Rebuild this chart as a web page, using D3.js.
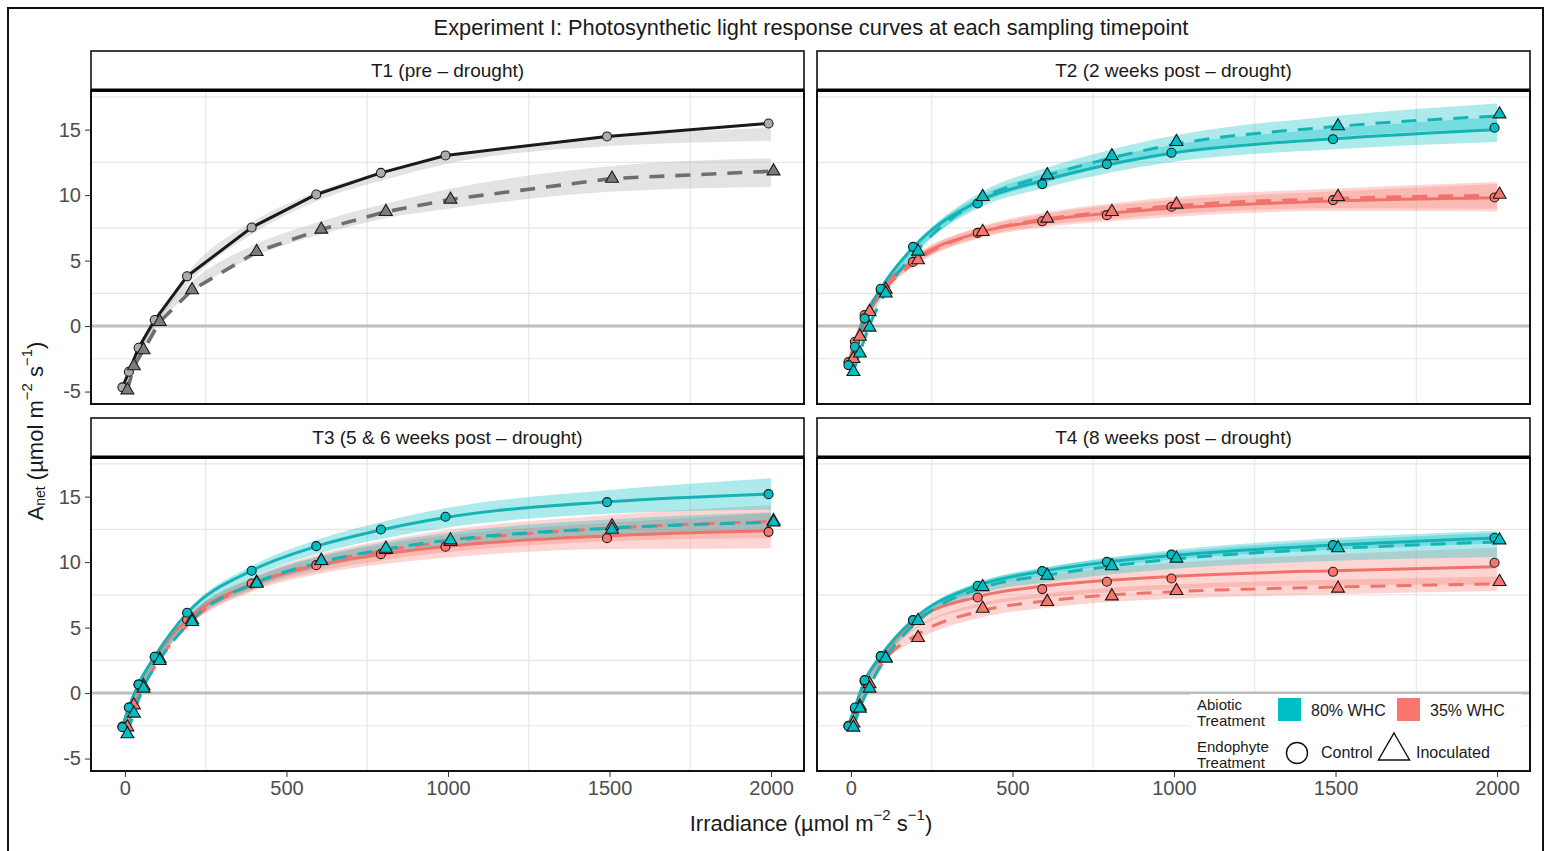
<!DOCTYPE html>
<html>
<head>
<meta charset="utf-8">
<script src="https://cdn.jsdelivr.net/npm/d3@7"></script>
<style>
  body { margin: 0; background: #fff; }
  svg { display: block; }
  text { font-family: "Liberation Sans", Arial, Helvetica, sans-serif; }
</style>
</head>
<body>
<svg id="chart" width="1551" height="851"></svg>
<script>
// ---- data -------------------------------------------------------------
const irradiance = [0, 20, 50, 100, 200, 400, 600, 800, 1000, 1500, 2000];
const xTicks = [0, 500, 1000, 1500, 2000];
const yTicks = [-5, 0, 5, 10, 15];
const xMinor = [250, 750, 1250, 1750];
const yMinor = [-2.5, 2.5, 7.5, 12.5, 17.5];
const panelTitles = [
  "T1 (pre \u2013 drought)",
  "T2 (2 weeks post \u2013 drought)",
  "T3 (5 & 6 weeks post \u2013 drought)",
  "T4 (8 weeks post \u2013 drought)"
];
const abioticLevels = ["80% WHC", "35% WHC"];
const endophyteLevels = ["Control", "Inoculated"];

// T1 (pre-drought, no water treatment yet)
const t1CtrlPts = [-4.68, -3.49, -1.66, 0.46, 3.8, 7.53, 10.05, 11.7, 13.03, 14.48, 15.47];
const t1CtrlFit = [-4.68, -3.49, -1.66, 0.46, 3.8, 7.53, 10.05, 11.7, 13.03, 14.48, 15.47];
const t1CtrlLo  = [-4.85, -3.65, -1.9, 0.2, 3.35, 7.1, 9.6, 11.15, 12.4, 13.75, 14.15];
const t1CtrlHi  = [-4.5, -3.3, -1.45, 0.7, 4.25, 8.05, 10.3, 11.85, 13.0, 14.45, 15.15];
const t1InocPts = [-4.89, -3.05, -1.83, 0.33, 2.75, 5.67, 7.38, 8.73, 9.67, 11.27, 11.83];
const t1InocFit = [-4.89, -3.05, -1.83, 0.33, 2.75, 5.67, 7.38, 8.73, 9.67, 11.27, 11.83];
const t1InocLo  = [-5.05, -3.3, -2.05, 0.05, 2.4, 5.3, 6.95, 8.2, 8.95, 10.25, 10.63];
const t1InocHi  = [-4.7, -2.8, -1.55, 0.6, 3.25, 6.2, 7.95, 9.3, 10.45, 12.2, 12.8];

// T2
const t2WetCtrlPts = [-2.98, -1.58, 0.59, 2.85, 6.05, 9.36, 10.84, 12.37, 13.23, 14.27, 15.14];
const t2WetCtrlFit = [-3.0, -1.6, 0.55, 2.85, 6.0, 9.5, 11.1, 12.3, 13.2, 14.3, 15.0];
const t2WetCtrlLo  = [-3.15, -1.75, 0.35, 2.6, 5.65, 9.05, 10.55, 11.7, 12.55, 13.5, 14.05];
const t2WetCtrlHi  = [-2.85, -1.45, 0.75, 3.1, 6.35, 9.95, 11.65, 12.9, 13.85, 15.1, 15.95];
const t2WetInocPts = [-3.49, -2.08, -0.1, 2.5, 5.7, 9.87, 11.53, 12.98, 14.07, 15.27, 16.18];
const t2WetInocFit = [-3.45, -2.0, 0.05, 2.6, 5.85, 9.75, 11.5, 12.85, 13.9, 15.25, 16.05];
const t2WetInocLo  = [-3.6, -2.15, -0.15, 2.35, 5.5, 9.3, 10.95, 12.25, 13.25, 14.45, 15.1];
const t2WetInocHi  = [-3.3, -1.85, 0.25, 2.85, 6.2, 10.2, 12.05, 13.45, 14.55, 16.05, 17.0];
const t2DryCtrlPts = [-2.75, -1.2, 0.84, 2.75, 4.9, 7.12, 8.0, 8.47, 9.11, 9.62, 9.82];
const t2DryCtrlFit = [-2.75, -1.2, 0.8, 2.75, 5.0, 7.1, 8.05, 8.6, 9.0, 9.55, 9.8];
const t2DryCtrlLo  = [-2.9, -1.35, 0.6, 2.5, 4.65, 6.7, 7.55, 8.0, 8.35, 8.8, 8.75];
const t2DryCtrlHi  = [-2.6, -1.05, 1.0, 3.0, 5.35, 7.5, 8.55, 9.2, 9.65, 10.3, 10.85];
const t2DryInocPts = [-2.5, -0.8, 1.09, 2.8, 5.04, 7.2, 8.22, 8.73, 9.29, 9.87, 10.05];
const t2DryInocFit = [-2.5, -0.85, 1.05, 2.85, 5.05, 7.2, 8.2, 8.75, 9.2, 9.75, 10.0];
const t2DryInocLo  = [-2.65, -1.0, 0.85, 2.6, 4.7, 6.8, 7.7, 8.15, 8.55, 9.0, 8.95];
const t2DryInocHi  = [-2.35, -0.7, 1.25, 3.1, 5.4, 7.6, 8.7, 9.35, 9.85, 10.5, 11.0];

// T3
const t3WetCtrlPts = [-2.6, -1.1, 0.66, 2.77, 6.13, 9.34, 11.22, 12.49, 13.46, 14.58, 15.19];
const t3WetCtrlFit = [-2.6, -1.1, 0.7, 2.8, 6.1, 9.35, 11.2, 12.45, 13.4, 14.6, 15.2];
const t3WetCtrlLo  = [-2.75, -1.25, 0.5, 2.55, 5.75, 8.9, 10.65, 11.8, 12.65, 13.7, 14.0];
const t3WetCtrlHi  = [-2.45, -0.95, 0.9, 3.05, 6.45, 9.8, 11.75, 13.1, 14.15, 15.5, 16.4];
const t3WetInocPts = [-3.13, -1.55, 0.36, 2.47, 5.44, 8.37, 10.1, 11.04, 11.68, 12.49, 13.05];
const t3WetInocFit = [-3.05, -1.5, 0.45, 2.55, 5.6, 8.45, 10.0, 11.0, 11.7, 12.6, 13.05];
const t3WetInocLo  = [-3.2, -1.65, 0.25, 2.3, 5.3, 8.05, 9.55, 10.5, 11.15, 11.95, 12.3];
const t3WetInocHi  = [-2.9, -1.35, 0.65, 2.8, 5.9, 8.85, 10.45, 11.5, 12.25, 13.25, 13.8];
const t3DryCtrlPts = [-2.55, -1.1, 0.66, 2.77, 5.62, 8.37, 9.77, 10.61, 11.17, 11.83, 12.31];
const t3DryCtrlFit = [-2.55, -1.1, 0.65, 2.75, 5.6, 8.3, 9.75, 10.6, 11.2, 12.0, 12.4];
const t3DryCtrlLo  = [-2.7, -1.25, 0.45, 2.5, 5.2, 7.8, 9.1, 9.85, 10.35, 11.0, 11.05];
const t3DryCtrlHi  = [-2.4, -0.95, 0.85, 3.0, 6.0, 8.8, 10.4, 11.35, 12.05, 13.0, 13.75];
const t3DryInocPts = [-2.6, -0.92, 0.55, 2.6, 5.6, 8.45, 10.1, 10.95, 11.55, 12.75, 13.15];
const t3DryInocFit = [-2.6, -0.95, 0.55, 2.6, 5.55, 8.4, 9.95, 10.9, 11.6, 12.6, 13.1];
const t3DryInocLo  = [-2.75, -1.1, 0.35, 2.35, 5.15, 7.9, 9.3, 10.15, 10.75, 11.6, 11.85];
const t3DryInocHi  = [-2.45, -0.8, 0.75, 2.85, 5.95, 8.9, 10.6, 11.65, 12.45, 13.6, 14.35];

// T4
const t4WetCtrlPts = [-2.52, -1.1, 0.99, 2.82, 5.57, 8.19, 9.31, 10.02, 10.57, 11.3, 11.86];
const t4WetCtrlFit = [-2.5, -1.1, 0.9, 2.85, 5.6, 8.2, 9.3, 10.0, 10.5, 11.3, 11.85];
const t4WetCtrlLo  = [-2.6, -1.2, 0.75, 2.65, 5.35, 7.9, 9.0, 9.7, 10.2, 10.95, 11.45];
const t4WetCtrlHi  = [-2.4, -1.0, 1.05, 3.05, 5.85, 8.5, 9.6, 10.3, 10.8, 11.65, 12.25];
const t4WetInocPts = [-2.62, -1.17, 0.36, 2.65, 5.52, 8.11, 8.98, 9.7, 10.28, 11.08, 11.68];
const t4WetInocFit = [-2.6, -1.15, 0.5, 2.7, 5.5, 8.05, 9.0, 9.7, 10.25, 11.05, 11.55];
const t4WetInocLo  = [-2.7, -1.25, 0.3, 2.45, 5.2, 7.6, 8.45, 9.05, 9.5, 10.1, 10.4];
const t4WetInocHi  = [-2.5, -1.05, 0.7, 2.95, 5.8, 8.5, 9.55, 10.35, 10.95, 11.85, 12.4];
const t4DryCtrlPts = [-2.5, -1.2, 0.9, 2.8, 5.55, 7.3, 7.94, 8.5, 8.75, 9.26, 9.95];
const t4DryCtrlFit = [-2.5, -1.2, 0.85, 2.75, 5.4, 7.35, 8.15, 8.6, 8.9, 9.35, 9.65];
const t4DryCtrlLo  = [-2.65, -1.35, 0.6, 2.45, 4.9, 6.6, 7.3, 7.7, 7.95, 8.25, 8.3];
const t4DryCtrlHi  = [-2.35, -1.05, 1.1, 3.05, 5.9, 8.1, 9.0, 9.55, 9.95, 10.6, 11.1];
const t4DryInocPts = [-2.3, -1.0, 0.7, 2.7, 4.22, 6.46, 6.97, 7.4, 7.81, 7.99, 8.5];
const t4DryInocFit = [-2.35, -1.05, 0.65, 2.6, 4.5, 6.3, 7.05, 7.5, 7.75, 8.1, 8.35];
const t4DryInocLo  = [-2.5, -1.2, 0.4, 2.3, 4.0, 5.75, 6.5, 6.95, 7.2, 7.55, 7.8];
const t4DryInocHi  = [-2.2, -0.9, 0.9, 2.9, 5.0, 6.85, 7.6, 8.05, 8.3, 8.65, 8.9];

// Series table assembled from the arrays above
const series = [
  { panel: 0, water: "pre", endo: "Control",    pts: t1CtrlPts, fit: t1CtrlFit, lo: t1CtrlLo, hi: t1CtrlHi },
  { panel: 0, water: "pre", endo: "Inoculated", pts: t1InocPts, fit: t1InocFit, lo: t1InocLo, hi: t1InocHi },
  { panel: 1, water: "35",  endo: "Control",    pts: t2DryCtrlPts, fit: t2DryCtrlFit, lo: t2DryCtrlLo, hi: t2DryCtrlHi },
  { panel: 1, water: "35",  endo: "Inoculated", pts: t2DryInocPts, fit: t2DryInocFit, lo: t2DryInocLo, hi: t2DryInocHi },
  { panel: 1, water: "80",  endo: "Control",    pts: t2WetCtrlPts, fit: t2WetCtrlFit, lo: t2WetCtrlLo, hi: t2WetCtrlHi },
  { panel: 1, water: "80",  endo: "Inoculated", pts: t2WetInocPts, fit: t2WetInocFit, lo: t2WetInocLo, hi: t2WetInocHi },
  { panel: 2, water: "35",  endo: "Control",    pts: t3DryCtrlPts, fit: t3DryCtrlFit, lo: t3DryCtrlLo, hi: t3DryCtrlHi },
  { panel: 2, water: "35",  endo: "Inoculated", pts: t3DryInocPts, fit: t3DryInocFit, lo: t3DryInocLo, hi: t3DryInocHi },
  { panel: 2, water: "80",  endo: "Control",    pts: t3WetCtrlPts, fit: t3WetCtrlFit, lo: t3WetCtrlLo, hi: t3WetCtrlHi },
  { panel: 2, water: "80",  endo: "Inoculated", pts: t3WetInocPts, fit: t3WetInocFit, lo: t3WetInocLo, hi: t3WetInocHi },
  { panel: 3, water: "35",  endo: "Control",    pts: t4DryCtrlPts, fit: t4DryCtrlFit, lo: t4DryCtrlLo, hi: t4DryCtrlHi },
  { panel: 3, water: "35",  endo: "Inoculated", pts: t4DryInocPts, fit: t4DryInocFit, lo: t4DryInocLo, hi: t4DryInocHi },
  { panel: 3, water: "80",  endo: "Control",    pts: t4WetCtrlPts, fit: t4WetCtrlFit, lo: t4WetCtrlLo, hi: t4WetCtrlHi },
  { panel: 3, water: "80",  endo: "Inoculated", pts: t4WetInocPts, fit: t4WetInocFit, lo: t4WetInocLo, hi: t4WetInocHi }
];

// ---- styling ----------------------------------------------------------
const TEAL = "#00BFC4", SALMON = "#F8766D";
const lineColor = { pre: { Control: "#1a1a1a", Inoculated: "#6e6e6e" }, "80": { Control: "#14b3b6", Inoculated: "#14b3b6" }, "35": { Control: "#ef736b", Inoculated: "#ef736b" } };
const pointFill = { pre: { Control: "#acacac", Inoculated: "#7c7c7c" }, "80": { Control: TEAL, Inoculated: TEAL }, "35": { Control: SALMON, Inoculated: SALMON } };
const ribbonFill = { pre: "#b5b5b5", "80": TEAL, "35": SALMON };
const ribbonOpacity = { pre: 0.38, "80": 0.32, "35": 0.3 };
const dodge = { Control: -2.5, Inoculated: 2.5 };
const FONT = "Liberation Sans, Arial, sans-serif";

// ---- layout -----------------------------------------------------------
const svg = d3.select("#chart");
const colX = [91, 817], rowY = [51, 418];
const panelW = 713, stripH = 40, plotH = 313;

const x = d3.scaleLinear().domain([-105, 2102]).range([0, panelW]);
const y = d3.scaleLinear().domain([-5.95, 17.95]).range([plotH, 0]);

// outer frame
svg.append("rect").attr("x", 8).attr("y", 8).attr("width", 1535).attr("height", 870)
  .attr("fill", "none").attr("stroke", "#111").attr("stroke-width", 2);

svg.append("text").attr("x", 811).attr("y", 27).attr("text-anchor", "middle")
  .attr("dominant-baseline", "central").attr("font-size", 21.8).attr("fill", "#1a1a1a")
  .text("Experiment I: Photosynthetic light response curves at each sampling timepoint");

panelTitles.forEach((title, p) => {
  const col = p % 2, row = Math.floor(p / 2);
  const left = colX[col], top = rowY[row];
  const g = svg.append("g").attr("transform", `translate(${left},${top + stripH})`);

  // strip
  svg.append("rect").attr("x", left).attr("y", top).attr("width", panelW).attr("height", stripH)
    .attr("fill", "#fff").attr("stroke", "#111").attr("stroke-width", 1.6);
  svg.append("line").attr("x1", left).attr("x2", left + panelW).attr("y1", top + stripH - 1).attr("y2", top + stripH - 1)
    .attr("stroke", "#000").attr("stroke-width", 3.2);
  svg.append("text").attr("x", left + panelW / 2).attr("y", top + stripH / 2 - 1)
    .attr("text-anchor", "middle").attr("dominant-baseline", "central")
    .attr("font-size", 19).attr("fill", "#1a1a1a").text(title);

  // grid
  g.selectAll(".gx").data(xMinor).join("line")
    .attr("x1", d => x(d)).attr("x2", d => x(d)).attr("y1", 0).attr("y2", plotH)
    .attr("stroke", "#e6e6e6").attr("stroke-width", 1.1);
  g.selectAll(".gy").data(yMinor).join("line")
    .attr("x1", 0).attr("x2", panelW).attr("y1", d => y(d)).attr("y2", d => y(d))
    .attr("stroke", "#e6e6e6").attr("stroke-width", 1.1);

  // zero reference
  g.append("line").attr("x1", 0).attr("x2", panelW).attr("y1", y(0)).attr("y2", y(0))
    .attr("stroke", "#bdbdbd").attr("stroke-width", 3);

  const ps = series.filter(s => s.panel === p);

  const area = d3.area().curve(d3.curveMonotoneX)
    .x((d, i) => x(irradiance[i])).y0(d => y(d[0])).y1(d => y(d[1]));
  ps.forEach(s => {
    g.append("path").datum(s.lo.map((v, i) => [v, s.hi[i]]))
      .attr("d", area).attr("fill", ribbonFill[s.water]).attr("fill-opacity", ribbonOpacity[s.water]);
  });

  ps.forEach(s => {
    const line = d3.line().curve(s.water === "pre" ? d3.curveLinear : d3.curveMonotoneX)
      .x((d, i) => x(irradiance[i]) + dodge[s.endo]).y(d => y(d));
    g.append("path").datum(s.fit).attr("d", line).attr("fill", "none")
      .attr("stroke", lineColor[s.water][s.endo])
      .attr("stroke-width", s.water === "pre" && s.endo === "Inoculated" ? 3.6 : 3)
      .attr("stroke-dasharray", s.endo === "Inoculated" ? "15,11" : null)
      .attr("stroke-linejoin", "round");
  });

  ps.forEach(s => {
    const sel = g.append("g");
    s.pts.forEach((v, i) => {
      const px = x(irradiance[i]) + dodge[s.endo], py = y(v);
      if (s.endo === "Control") {
        sel.append("circle").attr("cx", px).attr("cy", py).attr("r", 4.5)
          .attr("fill", pointFill[s.water][s.endo]).attr("stroke", "#1a1a1a").attr("stroke-width", 1.1);
      } else {
        sel.append("path").attr("d", d3.symbol(d3.symbolTriangle, 72)())
          .attr("transform", `translate(${px},${py})`)
          .attr("fill", pointFill[s.water][s.endo]).attr("stroke", "#1a1a1a").attr("stroke-width", 1.1);
      }
    });
  });

  // panel border
  g.append("rect").attr("width", panelW).attr("height", plotH)
    .attr("fill", "none").attr("stroke", "#111").attr("stroke-width", 2);

  // axes on outer panels only
  if (col === 0) {
    const ay = g.append("g").call(d3.axisLeft(y).tickValues(yTicks).tickFormat(d => String(d)).tickSize(6).tickPadding(4));
    ay.select(".domain").remove();
    ay.selectAll(".tick line").attr("stroke", "#333");
    ay.selectAll(".tick text").attr("font-size", 20).attr("fill", "#4d4d4d").attr("font-family", FONT);
  }
  if (row === 1) {
    const ax = g.append("g").attr("transform", `translate(0,${plotH})`)
      .call(d3.axisBottom(x).tickValues(xTicks).tickFormat(d => String(d)).tickSize(6).tickPadding(4));
    ax.select(".domain").remove();
    ax.selectAll(".tick line").attr("stroke", "#333");
    ax.selectAll(".tick text").attr("font-size", 20).attr("fill", "#4d4d4d").attr("font-family", FONT);
  }

  // legend inside the last panel
  if (p === 3) {
    const lg = svg.append("g");
    lg.append("rect").attr("x", 1190).attr("y", 694).attr("width", 332).attr("height", 76).attr("fill", "#fff");
    const lab = (tx, ty, t, fs) => lg.append("text").attr("x", tx).attr("y", ty)
      .attr("font-size", fs).attr("fill", "#1a1a1a").attr("dominant-baseline", "central").text(t);
    lab(1197, 704, "Abiotic", 15);
    lab(1197, 720, "Treatment", 15);
    lab(1197, 746, "Endophyte", 15);
    lab(1197, 762, "Treatment", 15);
    const keyFill = [TEAL, SALMON], keyX = [1278, 1397], txtX = [1311, 1430];
    abioticLevels.forEach((lv, i) => {
      lg.append("rect").attr("x", keyX[i]).attr("y", 698).attr("width", 23).attr("height", 23)
        .attr("fill", keyFill[i]);
      lab(txtX[i], 710, lv, 16);
    });
    const shpX = [1297, 1394], shpTxt = [1321, 1416];
    endophyteLevels.forEach((lv, i) => {
      if (i === 0) {
        lg.append("circle").attr("cx", shpX[i]).attr("cy", 753).attr("r", 10.5)
          .attr("fill", "none").attr("stroke", "#111").attr("stroke-width", 1.4);
      } else {
        lg.append("path").attr("d", d3.symbol(d3.symbolTriangle, 420)())
          .attr("transform", `translate(${shpX[i]},${751})`)
          .attr("fill", "none").attr("stroke", "#111").attr("stroke-width", 1.4);
      }
      lab(shpTxt[i], 752, lv, 16);
    });
  }
});

// axis titles
const xt = svg.append("text").attr("x", 811).attr("y", 823).attr("text-anchor", "middle")
  .attr("dominant-baseline", "central").attr("font-size", 22).attr("fill", "#1a1a1a");
xt.append("tspan").text("Irradiance (\u00b5mol m");
xt.append("tspan").attr("dy", -9).attr("font-size", 15).text("\u22122");
xt.append("tspan").attr("dy", 9).text(" s");
xt.append("tspan").attr("dy", -9).attr("font-size", 15).text("\u22121");
xt.append("tspan").attr("dy", 9).text(")");

const yt = svg.append("text").attr("transform", "translate(35,431) rotate(-90)")
  .attr("text-anchor", "middle").attr("dominant-baseline", "central")
  .attr("font-size", 22).attr("fill", "#1a1a1a");
yt.append("tspan").text("A");
yt.append("tspan").attr("dy", 5).attr("font-size", 14).text("net");
yt.append("tspan").attr("dy", -5).text(" (\u00b5mol m");
yt.append("tspan").attr("dy", -9).attr("font-size", 15).text("\u22122");
yt.append("tspan").attr("dy", 9).text(" s");
yt.append("tspan").attr("dy", -9).attr("font-size", 15).text("\u22121");
yt.append("tspan").attr("dy", 9).text(")");
</script>
</body>
</html>
